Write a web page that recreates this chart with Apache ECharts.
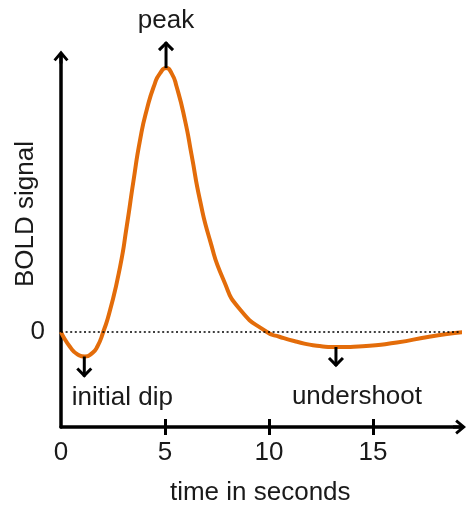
<!DOCTYPE html>
<html>
<head>
<meta charset="utf-8">
<script src="https://cdn.jsdelivr.net/npm/echarts@6/dist/echarts.min.js"></script>
<style>
  html, body { margin: 0; padding: 0; background: #fff; }
  #main { width: 466px; height: 506px; }
</style>
</head>
<body>
<div id="main"></div>
<script>
// time in seconds
var timeData = [0, 0.43, 0.8, 1.15, 1.5, 1.75, 2.03, 2.36, 2.84, 3.16, 3.48, 3.8, 4.12, 4.52, 4.76, 5.05, 5.32, 5.56, 5.96, 6.28, 6.68, 7.16, 7.8, 8.61, 9.9, 10.5, 11.35, 12.3, 13.2, 14.5, 16.15, 17.7, 19.45];
// BOLD signal, peak = 1
var boldData = [0, -0.056, -0.085, -0.093, -0.08, -0.055, 0, 0.083, 0.247, 0.4, 0.57, 0.727, 0.841, 0.943, 0.98, 1.0, 0.98, 0.929, 0.803, 0.67, 0.5, 0.348, 0.2, 0.085, 0, -0.018, -0.037, -0.052, -0.057, -0.054, -0.04, -0.018, 0];

var xLabels = [0, 5, 10, 15];
var xTickMarks = [5, 10, 15];
var yLabels = [0];

// annotations (arrow starts on the curve)
var annoNames = ['peak', 'initial dip', 'undershoot'];
var annoX = [5.05, 1.12, 13.22];
var annoY = [1.0, -0.093, -0.057];
var annoDir = [1, -1, -1]; // 1 up, -1 down

// styling only
var arrowLen = [26, 20, 19];
var labelDx = [0, 38, 21];
var labelDy = [-21, 21, 31];
var font = '"Liberation Sans", Arial, sans-serif';
var fontSize = 26;
var textColor = '#1a1a1a';
var arrowPath = 'path://M7.5,0 L15,9 L12.8,10.8 L9,6.3 L9,13 L6,13 L6,6.3 L2.2,10.8 L0,9 Z';

var curve = [];
for (var i = 0; i < timeData.length; i++) {
  curve.push([timeData[i], boldData[i]]);
}
var annoData = [];
for (var j = 0; j < annoNames.length; j++) {
  annoData.push([annoX[j], annoY[j], j]);
}

function renderAnno(params, api) {
  var k = api.value(2);
  var p = api.coord([api.value(0), api.value(1)]);
  var d = annoDir[k];
  var tipY = p[1] - d * arrowLen[k];
  return {
    type: 'group',
    children: [{
      type: 'line',
      shape: { x1: p[0], y1: p[1], x2: p[0], y2: tipY },
      style: { stroke: '#000', lineWidth: 3 }
    }, {
      type: 'polyline',
      shape: { points: [[p[0] - 7, tipY + d * 8], [p[0], tipY + d * 1], [p[0] + 7, tipY + d * 8]] },
      style: { stroke: '#000', lineWidth: 3, fill: null }
    }, {
      type: 'text',
      style: {
        text: annoNames[k],
        x: p[0] + labelDx[k],
        y: tipY + labelDy[k],
        align: 'center',
        verticalAlign: 'middle',
        font: fontSize + 'px ' + font,
        fill: textColor
      }
    }]
  };
}

var myChart = echarts.init(document.getElementById('main'));
var option = {
  animation: false,
  backgroundColor: '#fff',
  grid: { left: 61, right: 6.5, top: 57, bottom: 79, outerBoundsMode: 'none', containLabel: false },
  xAxis: [{
    type: 'value',
    min: 0,
    max: 19.16,
    interval: 5,
    axisLine: {
      show: true, onZero: false,
      lineStyle: { color: '#000', width: 3.5 },
      symbol: ['none', arrowPath], symbolSize: [15, 13]
    },
    axisTick: { show: true, customValues: xTickMarks, length: 8, lineStyle: { color: '#000', width: 3 } },
    axisLabel: { customValues: xLabels, margin: 13, fontSize: fontSize, fontFamily: font, color: textColor },
    splitLine: { show: false },
    name: 'time in seconds',
    nameLocation: 'middle',
    nameGap: 53,
    nameMoveOverlap: false,
    nameTextStyle: { fontSize: fontSize, fontFamily: font, color: textColor }
  }, {
    type: 'value',
    position: 'bottom',
    min: 0,
    max: 19.16,
    interval: 5,
    axisLine: { show: false, onZero: false },
    axisTick: { show: true, inside: true, customValues: xTickMarks, length: 8, lineStyle: { color: '#000', width: 3 } },
    axisLabel: { show: false },
    splitLine: { show: false }
  }],
  yAxis: {
    type: 'value',
    min: -0.36,
    max: 1.042,
    axisLine: {
      show: true, onZero: false,
      lineStyle: { color: '#000', width: 3.5 },
      symbol: ['none', arrowPath], symbolSize: [15, 13]
    },
    axisTick: { show: false },
    axisLabel: { customValues: yLabels, margin: 16, fontSize: fontSize, fontFamily: font, color: textColor },
    splitLine: { show: false },
    name: 'BOLD signal',
    nameLocation: 'middle',
    nameGap: 22,
    nameMoveOverlap: false,
    nameTextStyle: { fontSize: fontSize, fontFamily: font, color: textColor, padding: [0, 0, 0, 56] }
  },
  series: [{
    type: 'line',
    data: curve,
    smooth: 0.6,
    showSymbol: false,
    clip: false,
    z: 3,
    lineStyle: { color: '#e36c0a', width: 4 },
    markLine: {
      silent: true,
      symbol: ['none', 'none'],
      label: { show: false },
      lineStyle: { color: '#000', type: [2, 2.6], width: 1.5 },
      data: [{ yAxis: 0 }]
    }
  }, {
    type: 'custom',
    data: annoData,
    clip: false,
    z: 4,
    silent: true,
    renderItem: renderAnno
  }]
};
myChart.setOption(option);
</script>
</body>
</html>
